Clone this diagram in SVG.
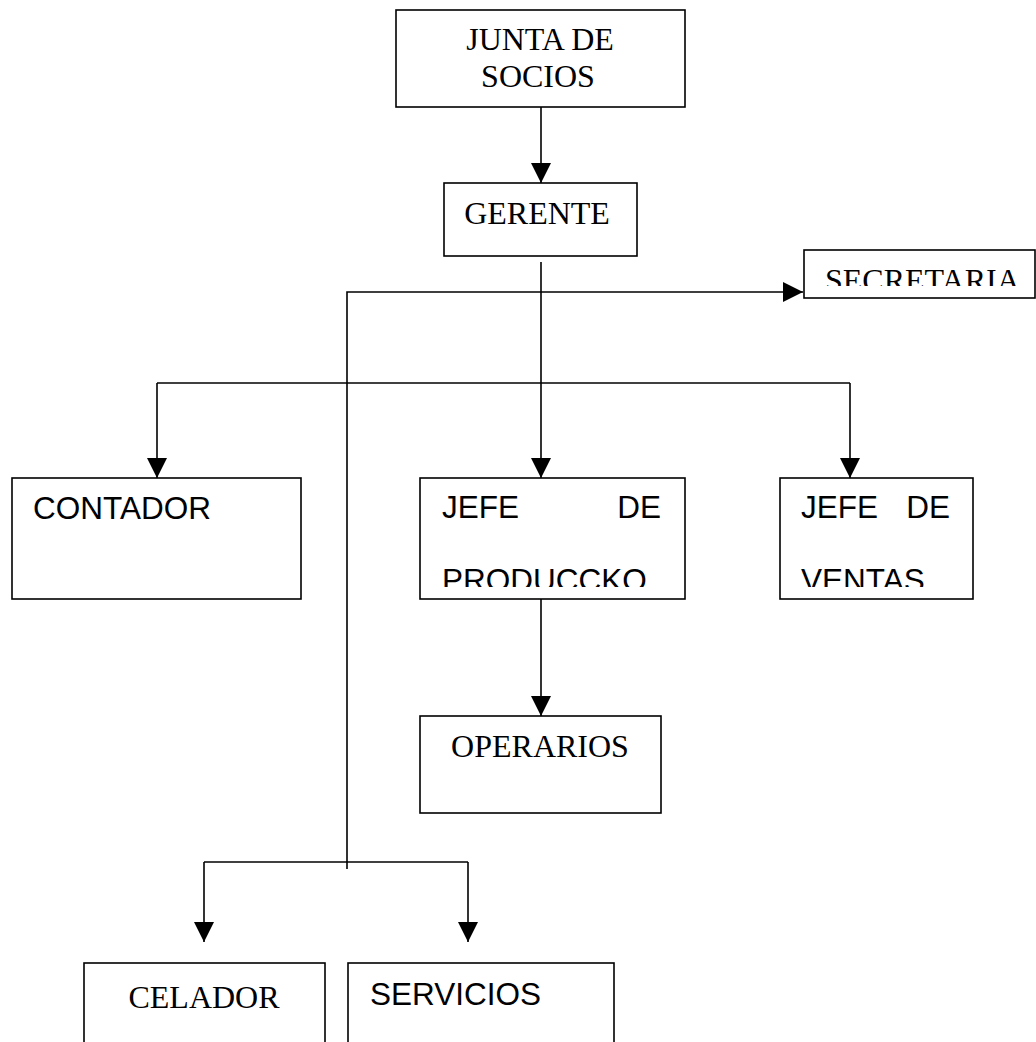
<svg xmlns="http://www.w3.org/2000/svg" width="1036" height="1042" viewBox="0 0 1036 1042">
  <style>
    .box { fill: #ffffff; stroke: #000000; stroke-width: 1.6; }
    .line { fill: none; stroke: #000000; stroke-width: 1.6; }
    .serif { font-family: "Liberation Serif", "Times New Roman", serif; font-size: 32px; fill: #000000; }
    .sans { font-family: "Liberation Sans", Arial, sans-serif; font-size: 31.5px; fill: #000000; }
  </style>
  <defs>
    <marker id="arrow" viewBox="0 0 20 20" refX="20" refY="10" markerWidth="20" markerHeight="20" markerUnits="userSpaceOnUse" orient="auto">
      <path d="M0,0 L20,10 L0,20 Z" fill="#000000"/>
    </marker>
    <clipPath id="clip-secretaria"><rect x="804" y="250" width="232" height="36"/></clipPath>
    <clipPath id="clip-produccion"><rect x="420" y="478" width="265" height="109"/></clipPath>
    <clipPath id="clip-ventas"><rect x="780" y="478" width="193" height="109"/></clipPath>
  </defs>

  <!-- connectors -->
  <g id="connectors">
    <line class="line" x1="541" y1="107" x2="541" y2="183" marker-end="url(#arrow)"/>
    <line class="line" x1="541" y1="262" x2="541" y2="478" marker-end="url(#arrow)"/>
    <polyline class="line" points="347,869 347,292 803,292" marker-end="url(#arrow)"/>
    <line class="line" x1="157" y1="383" x2="850" y2="383"/>
    <line class="line" x1="157" y1="383" x2="157" y2="478" marker-end="url(#arrow)"/>
    <line class="line" x1="850" y1="383" x2="850" y2="478" marker-end="url(#arrow)"/>
    <line class="line" x1="541" y1="599" x2="541" y2="716" marker-end="url(#arrow)"/>
    <line class="line" x1="204" y1="862" x2="468" y2="862"/>
    <line class="line" x1="204" y1="862" x2="204" y2="942" marker-end="url(#arrow)"/>
    <line class="line" x1="468" y1="862" x2="468" y2="942" marker-end="url(#arrow)"/>
  </g>

  <g id="junta">
    <rect class="box" x="396" y="10" width="289" height="97"/>
    <text class="serif" x="540" y="50" text-anchor="middle">JUNTA DE</text>
    <text class="serif" x="538" y="87" text-anchor="middle">SOCIOS</text>
  </g>

  <g id="gerente">
    <rect class="box" x="444" y="183" width="193" height="73"/>
    <text class="serif" x="537" y="224" text-anchor="middle">GERENTE</text>
  </g>

  <g id="secretaria">
    <rect class="box" x="804" y="250" width="231" height="48"/>
    <text class="serif" x="825" y="291" clip-path="url(#clip-secretaria)">SECRETARIA</text>
  </g>

  <g id="contador">
    <rect class="box" x="12" y="478" width="289" height="121"/>
    <text class="sans" x="33" y="519">CONTADOR</text>
  </g>

  <g id="jefe-produccion">
    <rect class="box" x="420" y="478" width="265" height="121"/>
    <text class="sans" x="442" y="518">JEFE</text>
    <text class="sans" x="661" y="518" text-anchor="end">DE</text>
    <text class="sans" x="442" y="591" clip-path="url(#clip-produccion)">PRODUCCKO</text>
  </g>

  <g id="jefe-ventas">
    <rect class="box" x="780" y="478" width="193" height="121"/>
    <text class="sans" x="801" y="518">JEFE</text>
    <text class="sans" x="950" y="518" text-anchor="end">DE</text>
    <text class="sans" x="801" y="591" clip-path="url(#clip-ventas)">VENTAS</text>
  </g>

  <g id="operarios">
    <rect class="box" x="420" y="716" width="241" height="97"/>
    <text class="serif" x="540" y="757" text-anchor="middle">OPERARIOS</text>
  </g>

  <g id="celador">
    <rect class="box" x="84" y="963" width="241" height="100"/>
    <text class="serif" x="204" y="1008" text-anchor="middle">CELADOR</text>
  </g>

  <g id="servicios">
    <rect class="box" x="348" y="963" width="266" height="100"/>
    <text class="sans" x="370" y="1005">SERVICIOS</text>
  </g>
</svg>
